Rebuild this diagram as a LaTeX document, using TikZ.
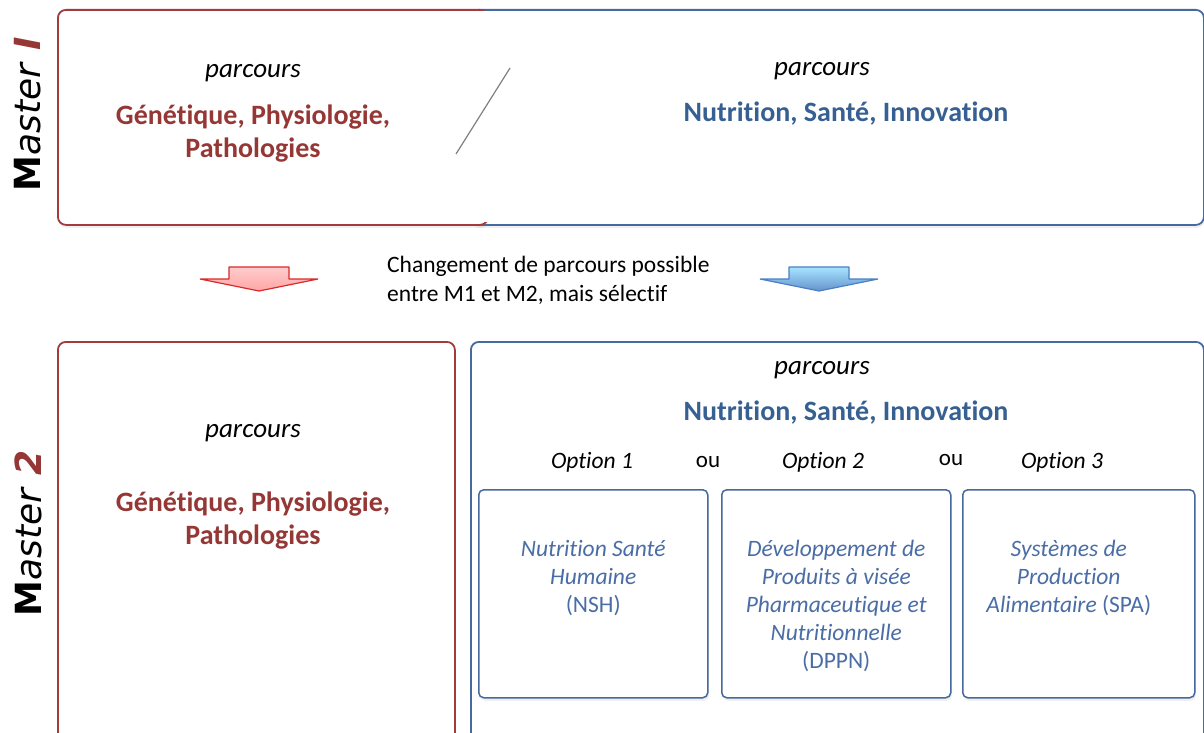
\documentclass[tikz,border=0pt]{standalone}
\usepackage{fontspec}
\setmainfont{Carlito}[Ligatures=NoCommon]
\newfontfamily\mastfont{DejaVu Sans}
\usetikzlibrary{positioning,shadows}

\definecolor{grenat}{HTML}{953735}
\definecolor{bleunsi}{HTML}{376092}
\definecolor{bordrouge}{HTML}{A33A3C}
\definecolor{bordbleu}{HTML}{46699F}
\definecolor{bleuopt}{HTML}{4A6DA6}
\definecolor{flechrouge}{HTML}{D92A2A}
\definecolor{flechbleu}{HTML}{4A7FC4}

\tikzset{
  ombre/.style={drop shadow={opacity=0.12,shadow xshift=1pt,shadow yshift=-3pt}},
  cadrerouge/.style={draw=bordrouge,line width=1.8pt,rounded corners=8pt,fill=white,ombre,anchor=north west,inner sep=0pt},
  cadrebleu/.style={cadrerouge,draw=bordbleu},
  optbox/.style={draw=bordbleu,line width=1.5pt,rounded corners=5pt,fill=white,ombre,anchor=north west,minimum height=208pt,inner sep=0pt},
  parc/.style={font=\itshape\fontsize{27}{32}\selectfont},
  titrerouge/.style={text=grenat,align=center,font=\bfseries\fontsize{28}{33}\selectfont},
  titrebleu/.style={text=bleunsi,font=\bfseries\fontsize{28}{33}\selectfont},
  optlab/.style={font=\itshape\fontsize{23.5}{27}\selectfont},
  ou/.style={font=\fontsize{23}{27}\selectfont},
  opttxt/.style={text=bleuopt,align=center,inner sep=0pt,font=\itshape\fontsize{23.5}{28}\selectfont},
  mast/.style={rotate=90,inner sep=0pt,font=\mastfont\fontsize{36}{40}\selectfont},
  fleche/.style={line width=1.2pt,line join=bevel},
}

\begin{document}
\begin{tikzpicture}[x=1pt,y=-1pt]
\useasboundingbox (0,0) rectangle (1204,733);
\clip (0,0) rectangle (1204,733);

% Master 1
\node[cadrebleu,minimum width=733pt,minimum height=215pt] (m1nsi) at (470,9) {};
\node[cadrerouge,minimum width=430pt,minimum height=215pt] (m1gpp) at (57,9) {};
\fill[white] (445,11) rectangle (522,222);

\node[mast] (m1lab) at (28,114) {\textbf{M}\textit{aster}\ \textcolor{grenat}{\textbf{\textit{I}}}};

\node[parc] (m1p1) at (253,73) {parcours};
\node[titrerouge] (m1t1) at (253,134) {Génétique, Physiologie,\\Pathologies};
\node[parc] (m1p2) at (822,71) {parcours};
\node[titrebleu] (m1t2) at (846,114) {Nutrition, Santé, Innovation};
\draw[gray,line width=1.2pt] (510,68) -- (456,154);

% fleches
\draw[fleche,draw=flechrouge,top color=red!20!white,bottom color=red!35!white]
  (229,267) -- (289,267) -- (289,279) -- (318,279) -- (259,291) -- (200,279) -- (229,279) -- cycle;
\draw[fleche,draw=flechbleu,top color=blue!30!cyan!35!white,bottom color=flechbleu!85!white]
  (789,267) -- (849,267) -- (849,279) -- (878,279) -- (819,291) -- (760,279) -- (789,279) -- cycle;

\node[anchor=west,align=left,inner sep=0pt,font=\fontsize{23.5}{29}\selectfont] (chgt) at (387,280)
  {Changement de parcours possible\\entre M1 et M2, mais sélectif};

% Master 2
\node[cadrerouge,minimum width=397pt,minimum height=420pt] (m2gpp) at (57,341) {};
\node[cadrebleu,minimum width=733pt,minimum height=420pt] (m2nsi) at (470,341) {};

\node[mast] (m2lab) at (28,533) {\textbf{M}\textit{aster}\ \textcolor{grenat}{\textbf{\textit{2}}}};

\node[parc] (m2p1) at (253,433) {parcours};
\node[titrerouge] (m2t1) at (253,521) {Génétique, Physiologie,\\Pathologies};
\node[parc] (m2p2) at (822,370) {parcours};
\node[titrebleu] (m2t2) at (846,413) {Nutrition, Santé, Innovation};

\foreach \x/\n in {592/1,823/2,1062/3}
  \node[optlab] (opt\n) at (\x,462) {Option \n};
\node[ou] (ou1) at (708,462) {ou};
\node[ou] (ou2) at (951,460) {ou};

\foreach \x/\w/\n in {478/229pt/nsh,721/229pt/dppn,962/232pt/spa}
  \node[optbox,minimum width=\w] (\n) at (\x,489) {};

\node[opttxt,below=51pt of nsh.north] (nshtxt) {Nutrition Santé\\Humaine\\{\upshape(NSH)}};
\node[opttxt,below=51pt of dppn.north] (dppntxt) {Développement de\\Produits à visée\\Pharmaceutique et\\Nutritionnelle\\{\upshape(DPPN)}};
\node[opttxt,below=51pt of spa.north,xshift=-10pt] (spatxt) {Systèmes de\\Production\\Alimentaire {\upshape(SPA)}};

\end{tikzpicture}
\end{document}
